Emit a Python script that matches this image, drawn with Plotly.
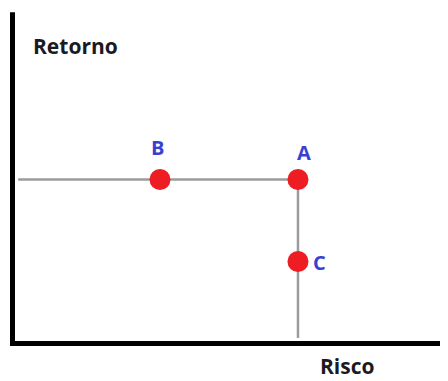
import plotly.graph_objects as go

# Data
labels = ["B", "A", "C"]
risco = [3.10, 6.00, 6.00]
retorno = [5.00, 5.00, 2.50]
axis_titles = ["Risco", "Retorno"]

# guide line start (left) and end (bottom)
line_x_start = 0.12
line_y_end = 0.17

W, H = 440, 373  # page has an 8px body margin
XR = [-0.0946, 9.153]
YR = [-1.143, 10.229]

fig = go.Figure()

ax, ay = risco[1], retorno[1]
fig.add_trace(go.Scatter(x=[line_x_start, ax], y=[ay, ay], mode="lines",
                         line=dict(color="#9b9b9b", width=2.5), hoverinfo="skip"))
fig.add_trace(go.Scatter(x=[ax, ax], y=[ay, line_y_end], mode="lines",
                         line=dict(color="#9b9b9b", width=2.5), hoverinfo="skip"))

fig.add_trace(go.Scatter(x=risco, y=retorno, mode="markers",
                         marker=dict(color="#ee1d23", size=21, line=dict(width=0))))

# axis lines
fig.add_shape(type="line", x0=0, x1=0, y0=-0.07, y1=10.1, xref="x", yref="y",
              line=dict(color="black", width=5))
fig.add_shape(type="line", x0=-0.05, x1=XR[1] + 0.5, y0=0, y1=0, xref="x", yref="y",
              line=dict(color="black", width=5))

shifts = {"B": (-3, 32), "A": (6, 27), "C": (22, -1)}
for lab, x, y in zip(labels, risco, retorno):
    dx, dy = shifts[lab]
    fig.add_annotation(x=x, y=y, text=f"<b>{lab}</b>", showarrow=False,
                       xshift=dx, yshift=dy, xanchor="center", yanchor="middle",
                       font=dict(family="Open Sans", size=20, color="#3b3fd1"))

fig.add_annotation(xref="paper", yref="paper", x=67/W, y=1-38/H,
                   xanchor="center", yanchor="middle",
                   text=f"<b>{axis_titles[1]}</b>", showarrow=False,
                   font=dict(family="Open Sans", size=21, color="#1a1a22"))
fig.add_annotation(xref="paper", yref="paper", x=339.5/W, y=0,
                   xanchor="center", yanchor="bottom", borderpad=0,
                   text=f"<b>{axis_titles[0]}</b>", showarrow=False,
                   font=dict(family="Open Sans", size=21, color="#1a1a22"))

fig.update_layout(
    width=W, height=H,
    margin=dict(l=0, r=0, t=0, b=0),
    paper_bgcolor="white", plot_bgcolor="white",
    showlegend=False,
    xaxis=dict(range=XR, visible=False, fixedrange=True),
    yaxis=dict(range=YR, visible=False, fixedrange=True),
)

fig.write_html("out.html", config={"displayModeBar": False})
